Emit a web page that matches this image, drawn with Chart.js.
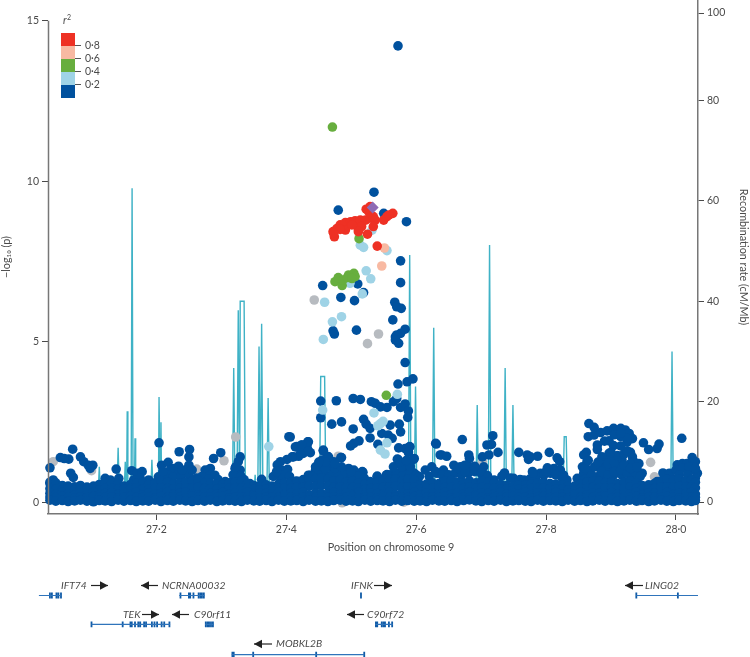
<!DOCTYPE html>
<html>
<head>
<meta charset="utf-8">
<title>Regional association plot, chromosome 9</title>
<script src="https://cdn.jsdelivr.net/npm/chart.js@4"></script>
<style>
  html, body { margin: 0; padding: 0; background: #fff; }
  canvas { display: block; }
</style>
</head>
<body>
<canvas id="chart" width="750" height="657"></canvas>
<script>
// Axis ticks
const positionTicks = [27.2, 27.4, 27.6, 27.8, 28.0];
const positionLabels = ['27·2', '27·4', '27·6', '27·8', '28·0'];
const logpTicks = [0, 5, 10, 15];
const rateTicks = [0, 20, 40, 60, 80, 97.4];
const rateLabels = ['0', '20', '40', '60', '80', '100'];
const legendLabels = ['0·8', '0·6', '0·4', '0·2'];

// Recombination rate (cM/Mb)
const recX = [27.036,27.110,27.112,27.114,27.139,27.141,27.143,27.150,27.152,27.154,27.155,27.156,27.161,27.1625,27.164,27.166,27.167,27.168,27.191,27.193,27.195,27.203,27.204,27.206,27.207,27.208,27.317,27.319,27.321,27.324,27.326,27.328,27.329,27.335,27.337,27.350,27.352,27.354,27.356,27.358,27.360,27.362,27.364,27.370,27.372,27.374,27.451,27.453,27.459,27.461,27.588,27.590,27.592,27.597,27.599,27.601,27.625,27.627,27.629,27.692,27.694,27.696,27.711,27.713,27.715,27.735,27.737,27.739,27.747,27.749,27.751,27.826,27.828,27.831,27.833,27.915,27.917,27.919,27.992,27.994,27.996,28.030];
const recRate = [1,1,7,1,1,10.8,1,1,8,1,18.1,1,1,62.5,1,1,12.7,1,1,8.4,1,1,20.9,1,15.9,1,1,26.7,1,1,38.2,1,40,40,1,1,5.4,1,1,31,1,35.5,1,1,20.7,1,1,25,25,1,1,49.2,1,1,23,1,1,34.7,1,1,19.3,1,1,51.2,1,1,26.7,1,1,19.3,1,1,13,13,1,1,11,1,1,30,1,1];

// Lead SNP
const leadX = [27.533];
const leadY = [9.18];

// r2 above 0.8
const redX = [27.474,27.472,27.478,27.483,27.491,27.499,27.506,27.514,27.522,27.529,27.534,27.527,27.529,27.523,27.537,27.550,27.555,27.564,27.558,27.534,27.525,27.491,27.511,27.516,27.511,27.483,27.501,27.473,27.540];
const redY = [8.27,8.43,8.53,8.64,8.71,8.74,8.77,8.79,8.79,8.85,8.90,9.05,9.21,9.13,8.79,8.79,8.90,9.00,8.95,8.59,8.35,8.48,8.50,8.59,8.43,8.50,8.64,8.38,7.98];

// r2 0.6 to 0.8
const salmonX = [27.551,27.547];
const salmonY = [7.92,7.36];

// r2 0.4 to 0.6
const greenX = [27.471,27.512,27.480,27.475,27.486,27.487,27.496,27.504,27.494,27.506,27.501,27.554];
const greenY = [11.69,8.21,7.00,6.87,6.75,6.92,7.08,7.13,7.00,7.03,6.97,3.33];

// r2 0.2 to 0.4
const lightX = [27.514,27.519,27.555,27.523,27.530,27.498,27.517,27.459,27.485,27.471,27.457,27.532,27.456,27.571,27.535,27.545,27.541,27.549,27.555,27.545,27.552,27.373];
const lightY = [8.01,7.94,7.84,7.21,6.96,6.82,6.49,6.23,5.78,5.62,5.07,8.48,2.87,3.36,2.78,2.45,2.38,2.52,1.85,1.62,1.50,1.73];

// No r2 available
const greyX = [27.443,27.542,27.525,27.480,27.041,27.100,27.262,27.322,27.304,27.486,27.581,27.702,27.961,27.967,27.942];
const greyY = [6.30,5.24,4.94,1.43,1.26,0.98,1.03,2.03,1.29,-0.02,0.00,1.26,1.24,0.79,0.03];

// r2 below 0.2, everything that stands out of the dense band
const navyX = [27.572,27.535,27.480,27.585,27.576,27.456,27.510,27.576,27.484,27.505,27.519,27.567,27.570,27.577,27.564,27.472,27.474,27.508,27.583,27.576,27.568,27.570,27.568,27.573,27.550,
  27.583,27.572,27.586,27.595,27.453,27.477,27.503,27.514,27.531,27.537,27.545,27.555,27.565,27.570,27.576,27.583,27.588,27.587,27.453,27.470,27.485,27.519,27.523,27.529,27.503,27.560,27.574,27.576,27.529,27.547,27.557,27.563,27.512,27.504,27.499,27.541,27.573,27.583,27.590,27.588,27.630,27.637,27.571,27.597,27.596,
  27.406,27.414,27.424,27.434,27.432,27.437,27.411,27.419,27.426,27.457,27.463,27.468,27.484,27.455,27.496,27.515,27.445,27.437,27.450,27.540,27.554,27.581,
  27.036,27.052,27.065,27.058,27.071,27.083,27.088,27.095,27.102,27.098,27.068,27.072,27.041,27.036,27.138,27.162,27.170,27.178,27.204,27.208,27.218,27.234,27.235,27.251,27.250,27.250,27.227,27.221,27.121,27.129,27.142,27.165,27.175,27.188,27.203,27.219,27.232,27.247,27.275,27.283,
  27.288,27.299,27.329,27.326,27.321,27.329,27.280,27.283,27.290,27.404,27.416,27.433,27.424,27.434,27.422,27.409,27.401,27.391,27.386,27.393,27.402,27.391,27.457,27.465,27.473,27.485,27.455,27.450,27.465,27.442,27.434,27.457,27.470,27.517,27.496,27.504,27.488,27.504,27.306,27.329,27.324,27.362,27.344,27.391,27.414,27.432,27.447,27.473,27.478,27.496,27.511,27.524,
  27.518,27.631,27.671,27.718,27.716,27.709,27.726,27.712,27.702,27.639,27.647,27.681,27.682,27.758,27.771,27.773,27.572,27.596,27.590,27.588,27.736,27.732,27.658,27.668,27.681,27.704,27.699,27.709,27.642,27.624,27.614,27.632,27.540,27.555,27.529,27.581,27.591,27.596,27.750,27.766,27.720,
  27.787,27.776,27.805,27.817,27.821,27.866,27.874,27.865,27.874,27.884,27.894,27.904,27.915,27.922,27.928,27.933,27.925,27.915,27.897,27.904,27.879,27.879,27.950,27.958,27.974,27.971,28.009,27.862,27.858,27.930,27.933,27.897,27.886,27.899,27.863,27.856,27.868,27.879,27.889,27.917,27.935,27.943,27.948,27.940,27.930,27.848,27.779,27.791,27.802,27.812,27.822,27.827,27.832,27.980,28.002,28.010,28.017,28.025,28.030,28.028,28.033,27.971,27.992,28.023,27.889,27.899,27.910,27.904,27.917,27.930,27.879,27.868,27.858,27.889,27.858,27.940];
const navyY = [14.22,9.66,9.10,8.74,7.52,6.75,6.80,6.84,6.38,6.28,6.53,6.23,6.09,6.04,5.68,5.34,5.24,5.36,5.39,5.26,5.15,5.21,5.05,4.95,9.00,
  4.35,3.68,3.75,3.84,3.15,3.16,3.23,3.20,3.13,3.08,2.97,2.95,3.13,3.23,2.95,3.06,2.84,2.64,2.63,2.43,2.50,2.58,2.43,2.30,2.28,2.40,2.43,2.19,2.00,2.14,2.09,1.99,1.91,1.83,1.75,1.80,1.69,1.67,1.72,1.57,1.83,1.47,1.34,1.36,0.91,
  2.03,1.72,1.78,1.88,1.71,1.54,1.41,1.43,1.52,1.60,1.43,1.26,1.39,1.21,1.00,0.91,1.00,0.84,1.05,0.79,0.84,1.00,
  1.07,1.39,1.34,1.36,1.65,1.41,1.26,1.15,1.15,1.05,0.90,0.77,0.69,0.58,1.03,0.98,0.90,0.95,1.85,1.15,1.24,1.12,1.57,1.64,1.41,1.15,1.05,1.00,0.74,0.69,0.74,0.69,0.74,0.69,0.79,0.84,0.84,1.00,1.00,1.05,
  1.36,1.54,1.41,1.26,1.05,1.00,1.00,0.84,0.84,2.04,1.73,1.88,1.78,1.60,1.52,1.41,1.33,1.26,1.16,1.00,1.02,0.84,1.62,1.41,1.26,1.39,1.31,1.10,1.10,0.84,0.84,0.79,0.74,0.95,1.05,1.00,0.84,0.79,0.64,0.84,0.74,0.71,0.58,0.64,0.64,0.69,0.79,0.84,0.64,0.69,0.69,0.58,
  0.93,1.81,1.95,2.07,1.80,1.78,1.55,1.47,1.41,1.47,1.43,1.47,1.36,1.55,1.47,1.33,1.33,1.33,1.73,1.55,0.91,0.81,1.15,1.10,1.10,1.10,1.00,0.84,1.00,1.10,1.00,0.90,0.81,0.86,0.64,1.00,1.10,0.90,0.74,0.69,0.69,
  1.43,1.41,1.55,1.38,1.26,2.45,2.33,2.04,2.09,2.17,2.22,2.30,2.30,2.25,2.14,1.98,1.88,2.04,1.91,1.76,1.78,1.64,1.85,1.64,1.81,1.67,1.99,1.55,1.47,1.55,1.41,1.52,1.41,1.36,1.26,1.10,1.00,1.15,1.20,1.31,1.26,1.20,0.90,1.00,1.20,0.74,0.95,0.90,1.07,1.05,1.00,0.84,0.69,0.91,1.16,1.20,1.20,1.39,1.26,1.10,0.90,0.64,0.79,1.00,1.00,1.00,1.10,0.84,0.84,0.84,0.79,0.79,0.90,0.79,0.69,0.74];

// Filling the humps that rise out of the band
const fillX = [27.213,27.225,27.238,27.250,27.262,27.240,27.210,27.255,27.270,27.280,27.295,
  27.318,27.330,27.322,27.335,27.380,27.395,27.405,27.385,
  27.440,27.450,27.460,27.470,27.480,27.490,27.500,27.510,27.520,27.445,27.460,27.475,27.485,27.500,27.460,27.475,27.450,
  27.560,27.570,27.580,27.590,27.600,27.565,27.578,27.590,27.575,27.585,27.605,
  27.620,27.630,27.640,27.650,27.660,27.670,27.680,27.690,27.700,27.710,27.665,27.675,27.690,27.675,
  27.745,27.760,27.775,27.785,27.797,27.807,27.815,27.825,27.780,27.800,
  27.860,27.870,27.875,27.885,27.895,27.905,27.915,27.925,27.935,27.945,27.865,27.880,27.895,27.905,27.920,27.930,27.940,27.910,27.920,27.925,27.900,27.915,27.925,27.890,27.905,27.915,27.860,
  27.990,28.000,28.010,28.020,28.030,27.985,28.005,28.018,28.030];
const fillY = [0.75,0.78,0.80,0.85,0.75,1.00,0.95,1.00,0.80,0.72,0.70,
  0.85,0.80,1.10,0.70,0.80,0.85,0.80,0.95,
  0.80,0.85,0.85,0.85,0.85,0.85,0.85,0.80,0.75,1.10,1.05,1.05,1.10,0.95,1.25,1.20,1.25,
  0.85,0.90,0.85,0.85,0.85,1.10,1.10,1.15,1.25,1.30,0.80,
  0.80,0.95,0.85,0.85,0.90,0.85,0.90,0.95,0.90,0.80,1.05,0.95,1.12,1.15,
  0.75,0.70,0.72,0.80,0.85,0.90,0.85,0.75,0.90,0.95,
  1.05,0.85,1.10,0.95,0.85,0.95,1.00,0.90,0.95,0.80,1.30,1.25,1.20,1.25,1.15,1.05,1.10,1.45,1.50,1.60,1.55,1.75,2.00,1.90,2.10,2.15,0.70,
  0.90,1.00,1.05,1.10,1.05,0.72,0.85,0.85,0.75];

// Dense band along the bottom, five rows per position
const bandX = [27.036,27.045,27.055,27.064,27.074,27.083,27.093,27.103,27.112,27.121,
  27.131,27.141,27.150,27.160,27.169,27.179,27.188,27.198,27.207,27.217,
  27.226,27.236,27.245,27.255,27.264,27.274,27.283,27.293,27.302,27.312,
  27.321,27.331,27.340,27.350,27.359,27.369,27.378,27.388,27.397,27.407,
  27.416,27.426,27.435,27.445,27.454,27.464,27.473,27.483,27.492,27.502,
  27.511,27.521,27.530,27.540,27.549,27.559,27.568,27.578,27.587,27.597,
  27.606,27.616,27.625,27.635,27.644,27.654,27.663,27.673,27.682,27.692,
  27.701,27.711,27.720,27.730,27.739,27.749,27.758,27.768,27.777,27.787,
  27.796,27.806,27.815,27.825,27.834,27.844,27.853,27.863,27.872,27.882,
  27.891,27.901,27.910,27.920,27.929,27.939,27.948,27.958,27.967,27.977,
  27.986,27.996,28.005,28.015,28.024,28.030];
const bandLow = [0.06,0.03,0.05,0.02,0.04,0.06,0.03,0.01,0.05,0.04,
  0.02,0.06,0.03,0.05,0.02,0.04,0.03,0.06,0.02,0.05,
  0.03,0.06,0.04,0.02,0.05,0.03,0.06,0.02,0.04,0.05,
  0.03,0.02,0.06,0.04,0.03,0.05,0.02,0.06,0.03,0.04,
  0.05,0.02,0.06,0.03,0.04,0.02,0.05,0.06,0.03,0.04,
  0.02,0.06,0.03,0.05,0.04,0.02,0.06,0.03,0.05,0.03,
  0.04,0.02,0.06,0.04,0.03,0.05,0.02,0.05,0.07,0.04,
  0.02,0.05,0.03,0.06,0.02,0.04,0.05,0.03,0.02,0.06,
  0.03,0.05,0.04,0.02,0.06,0.03,0.05,0.02,0.04,0.06,
  0.03,0.05,0.02,0.04,0.06,0.03,0.05,0.02,0.04,0.06,
  0.03,0.02,0.05,0.04,0.02,0.05];
const bandLowMid = [0.16,0.14,0.17,0.15,0.13,0.16,0.14,0.17,0.15,0.14,
  0.16,0.13,0.15,0.17,0.14,0.16,0.15,0.13,0.17,0.14,
  0.16,0.15,0.13,0.17,0.14,0.16,0.15,0.14,0.17,0.13,
  0.15,0.16,0.14,0.17,0.13,0.16,0.15,0.14,0.17,0.15,
  0.13,0.16,0.14,0.15,0.17,0.14,0.16,0.13,0.15,0.17,
  0.14,0.16,0.15,0.13,0.17,0.14,0.16,0.15,0.14,0.17,
  0.13,0.15,0.16,0.14,0.17,0.13,0.16,0.15,0.14,0.17,
  0.15,0.13,0.16,0.14,0.15,0.17,0.14,0.16,0.13,0.15,
  0.17,0.14,0.16,0.15,0.13,0.17,0.14,0.16,0.15,0.14,
  0.17,0.13,0.15,0.16,0.14,0.17,0.13,0.16,0.15,0.14,
  0.17,0.15,0.13,0.16,0.14,0.15];
const bandMid = [0.28,0.24,0.30,0.26,0.22,0.29,0.25,0.31,0.23,0.27,
  0.30,0.24,0.28,0.26,0.31,0.23,0.29,0.25,0.27,0.30,
  0.24,0.28,0.31,0.26,0.23,0.29,0.27,0.25,0.30,0.24,
  0.28,0.26,0.31,0.23,0.29,0.27,0.25,0.30,0.24,0.28,
  0.26,0.31,0.23,0.29,0.27,0.25,0.30,0.24,0.28,0.26,
  0.31,0.23,0.29,0.27,0.25,0.30,0.24,0.28,0.26,0.31,
  0.23,0.29,0.27,0.25,0.30,0.24,0.28,0.26,0.31,0.23,
  0.29,0.27,0.25,0.30,0.24,0.28,0.26,0.31,0.23,0.29,
  0.27,0.25,0.30,0.24,0.28,0.26,0.31,0.23,0.29,0.27,
  0.25,0.30,0.24,0.28,0.26,0.31,0.23,0.29,0.27,0.25,
  0.30,0.24,0.28,0.26,0.31,0.25];
const bandHighMid = [0.42,0.40,0.38,0.41,0.37,0.40,0.39,0.41,0.38,0.42,
  0.43,0.41,0.40,0.42,0.44,0.41,0.40,0.43,0.45,0.42,
  0.41,0.43,0.44,0.45,0.46,0.42,0.41,0.40,0.42,0.43,
  0.44,0.45,0.42,0.39,0.38,0.41,0.39,0.42,0.43,0.44,
  0.46,0.48,0.50,0.51,0.52,0.50,0.46,0.48,0.44,0.46,
  0.43,0.41,0.42,0.44,0.46,0.48,0.50,0.46,0.48,0.47,
  0.41,0.42,0.43,0.42,0.46,0.47,0.44,0.43,0.46,0.43,
  0.46,0.44,0.43,0.41,0.40,0.38,0.41,0.40,0.42,0.43,
  0.44,0.42,0.41,0.41,0.38,0.38,0.42,0.44,0.46,0.45,
  0.43,0.44,0.42,0.44,0.46,0.43,0.40,0.41,0.42,0.46,
  0.48,0.47,0.50,0.46,0.48,0.44];
const bandTop = [0.62,0.60,0.52,0.50,0.48,0.52,0.47,0.50,0.55,0.60,
  0.58,0.56,0.50,0.55,0.58,0.62,0.55,0.60,0.66,0.62,
  0.56,0.60,0.62,0.66,0.68,0.60,0.58,0.56,0.55,0.60,
  0.62,0.66,0.58,0.52,0.50,0.54,0.50,0.56,0.58,0.62,
  0.66,0.70,0.72,0.74,0.76,0.72,0.66,0.70,0.62,0.66,
  0.60,0.55,0.58,0.62,0.66,0.70,0.72,0.66,0.70,0.68,
  0.55,0.56,0.60,0.58,0.66,0.68,0.62,0.60,0.66,0.60,
  0.66,0.62,0.60,0.55,0.52,0.50,0.54,0.52,0.56,0.60,
  0.62,0.58,0.56,0.54,0.50,0.50,0.56,0.62,0.66,0.64,
  0.60,0.62,0.58,0.62,0.66,0.60,0.52,0.54,0.58,0.66,
  0.70,0.68,0.72,0.66,0.70,0.62];

// Gene models, row is a level below the axis on the -log10(p) scale
const geneNames = ['IFT74','NCRNA00032','TEK','C90rf11','MOBKL2B','IFNK','C90rf72','LING02'];
const geneStart = [27.019,27.235,27.100,27.275,27.316,27.515,27.537,27.939];
const geneEnd = [27.054,27.274,27.221,27.288,27.520,27.515,27.564,28.034];
const geneRow = [-2.91,-2.91,-3.81,-3.81,-4.75,-2.91,-3.81,-2.91];
const exonX = [
  [27.036,27.039,27.046,27.049,27.053],
  [27.237,27.250,27.252,27.257,27.265,27.268,27.270,27.273],
  [27.100,27.148,27.160,27.162,27.167,27.172,27.175,27.181,27.184,27.193,27.197,27.201,27.208,27.212,27.220],
  [27.276,27.279,27.281,27.284,27.287],
  [27.317,27.319,27.349,27.446,27.520],
  [27.515],
  [27.538,27.540,27.547,27.550,27.552,27.558,27.563],
  [27.939,28.003],
];

// Styles and page layout
const ink = '#4a4a4a';
const axisGrey = '#777777';
const fontFamily = 'Lato, "Open Sans", sans-serif';
const legendColors = ['#ee3124', '#f8b9a2', '#67ae3e', '#9fd3e6', '#00519e'];
const geneLabelLayout = [
  { text: 61, arrow: [91, 108], right: true },
  { text: 162, arrow: [141, 158], right: false },
  { text: 123, arrow: [142, 159], right: true },
  { text: 194, arrow: [172, 189], right: false },
  { text: 276, arrow: [254, 272], right: false },
  { text: 351, arrow: [374, 392], right: true },
  { text: 367, arrow: [347, 364], right: false },
  { text: 645, arrow: [625, 643], right: false },
];

const toPoints = (xs, ys) => xs.map((x, i) => ({ x, y: ys[i] }));

const geneLines = [];
geneNames.forEach((name, i) => {
  geneLines.push({ x: geneStart[i], y: geneRow[i] }, { x: geneEnd[i], y: geneRow[i] }, { x: null, y: null });
});
const exonHalf = 0.09;
const exonLines = [];
exonX.forEach((xs, i) => xs.forEach(x => {
  exonLines.push({ x, y: geneRow[i] - exonHalf }, { x, y: geneRow[i] + exonHalf }, { x: null, y: null });
}));

const dots = (data, color, order) => ({
  data, order,
  clip: false,
  showLine: false,
  pointRadius: 4.8,
  pointBorderWidth: 0,
  pointBackgroundColor: color,
});

// Everything the axes do not draw: left spine, r2 legend, titles, gene labels
const annotations = {
  id: 'annotations',
  // The vertical axes run to the very top of the page, tick label padding would push them down
  afterLayout(chart) {
    const { x, y, y2 } = chart.scales;
    [y, y2].forEach(s => {
      s.top = 0;
      s.bottom = x.top;
      s.height = x.top;
      s.configure();
    });
    chart.chartArea.top = 0;
    chart.chartArea.bottom = x.top;
    chart.chartArea.height = x.top;
  },
  afterDraw(chart) {
    const { ctx, scales } = chart;
    ctx.save();
    ctx.strokeStyle = axisGrey;
    ctx.lineWidth = 1.5;
    ctx.beginPath();
    ctx.moveTo(scales.x.left + 0.5, scales.y.getPixelForValue(15));
    ctx.lineTo(scales.x.left + 0.5, scales.x.top);
    ctx.stroke();

    // r2 legend
    legendColors.forEach((c, i) => {
      ctx.fillStyle = c;
      ctx.fillRect(61, 33 + i * 13, 14, 13);
    });
    ctx.strokeStyle = '#555';
    ctx.lineWidth = 1;
    ctx.fillStyle = ink;
    ctx.font = '10.5px ' + fontFamily;
    ctx.textBaseline = 'middle';
    ctx.textAlign = 'left';
    legendLabels.forEach((label, i) => {
      const ly = 45.5 + i * 13;
      ctx.beginPath();
      ctx.moveTo(75, ly);
      ctx.lineTo(81, ly);
      ctx.stroke();
      ctx.fillText(label, 85, ly + 0.5);
    });
    ctx.font = 'italic 10.5px ' + fontFamily;
    ctx.fillText('r', 63, 21);
    ctx.font = '7px ' + fontFamily;
    ctx.fillText('2', 67, 18);

    // x axis title
    ctx.font = '10.8px ' + fontFamily;
    ctx.textAlign = 'center';
    ctx.fillText('Position on chromosome 9', 391, 548);

    // gene labels and direction arrows
    ctx.textAlign = 'left';
    ctx.font = 'italic 10.3px ' + fontFamily;
    const rowLabelY = { '-2.91': 585.5, '-3.81': 614.5, '-4.75': 644 };
    geneNames.forEach((name, i) => {
      const layout = geneLabelLayout[i];
      const ty = rowLabelY[geneRow[i]];
      ctx.fillStyle = ink;
      ctx.fillText(name, layout.text, ty);
      const [a, b] = layout.arrow;
      ctx.strokeStyle = '#222';
      ctx.fillStyle = '#222';
      ctx.lineWidth = 1.2;
      ctx.beginPath();
      ctx.moveTo(a, ty);
      ctx.lineTo(b, ty);
      ctx.stroke();
      const tip = layout.right ? b : a;
      const back = layout.right ? b - 8 : a + 8;
      ctx.beginPath();
      ctx.moveTo(tip, ty);
      ctx.lineTo(back, ty - 4.2);
      ctx.lineTo(back, ty + 4.2);
      ctx.closePath();
      ctx.fill();
    });
    ctx.restore();
  },
};

const tickFont = { family: fontFamily, size: 10.5 };

new Chart(document.getElementById('chart'), {
  type: 'scatter',
  data: {
    datasets: [
      { data: toPoints(recX, recRate), yAxisID: 'y2', order: 9, clip: false, showLine: true, borderColor: '#3fb2c6', borderWidth: 1.4, pointRadius: 0, tension: 0 },
      dots(toPoints(greyX, greyY), '#b7bbc0', 8),
      dots(toPoints(bandX, bandLow), '#00519e', 7),
      dots(toPoints(bandX, bandLowMid), '#00519e', 7),
      dots(toPoints(bandX, bandMid), '#00519e', 7),
      dots(toPoints(bandX, bandHighMid), '#00519e', 7),
      dots(toPoints(bandX, bandTop), '#00519e', 7),
      dots(toPoints(fillX, fillY), '#00519e', 7),
      dots(toPoints(navyX, navyY), '#00519e', 7),
      dots(toPoints(lightX, lightY), '#9fd3e6', 6),
      dots(toPoints(greenX, greenY), '#67ae3e', 5),
      dots(toPoints(salmonX, salmonY), '#f8b9a2', 4),
      dots(toPoints(redX, redY), '#ee3124', 3),
      { ...dots(toPoints(leadX, leadY), '#8e6bb5', 2), pointStyle: 'rectRot', pointRadius: 6 },
      { data: geneLines, order: 1, clip: false, showLine: true, spanGaps: false, borderColor: '#2f74bb', borderWidth: 1.2, pointRadius: 0 },
      { data: exonLines, order: 1, clip: false, showLine: true, spanGaps: false, borderColor: '#0f5aa6', borderWidth: 1.8, pointRadius: 0 },
    ],
  },
  options: {
    responsive: false,
    animation: false,
    events: [],
    layout: { padding: 0 },
    plugins: { legend: { display: false }, tooltip: { enabled: false } },
    scales: {
      x: {
        type: 'linear',
        min: 27.033,
        max: 28.034,
        border: { color: axisGrey, width: 1.5 },
        grid: { drawOnChartArea: false, tickLength: 6, tickColor: ink },
        ticks: {
          autoSkip: false, maxRotation: 0, color: ink, font: tickFont, padding: 3,
          callback: (v, i) => positionLabels[i],
        },
        afterBuildTicks: s => { s.ticks = positionTicks.map(value => ({ value })); },
        afterFit: s => { s.height = 143; },
      },
      y: {
        type: 'linear',
        min: -0.37,
        max: 15.65,
        border: { display: false },
        grid: { drawOnChartArea: false, tickLength: 6, tickColor: ink },
        ticks: { autoSkip: false, color: ink, font: tickFont, padding: 3, callback: v => String(v) },
        title: { display: true, text: '−log₁₀ (p)', color: ink, font: { family: fontFamily, size: 10.8 }, padding: { top: 0, bottom: 0 } },
        afterBuildTicks: s => { s.ticks = logpTicks.map(value => ({ value })); },
        afterFit: s => { s.width = 48; },
      },
      y2: {
        type: 'linear',
        position: 'right',
        min: -2.39,
        max: 100,
        border: { color: axisGrey, width: 1.5 },
        grid: { drawOnChartArea: false, tickLength: 6, tickColor: ink },
        ticks: {
          autoSkip: false, color: ink, font: tickFont, padding: 3,
          callback: (v, i) => rateLabels[i],
        },
        title: { display: true, text: 'Recombination rate (cM/Mb)', color: ink, font: { family: fontFamily, size: 10.8 }, padding: { top: 0, bottom: 0 } },
        afterBuildTicks: s => { s.ticks = rateTicks.map(value => ({ value })); },
        afterFit: s => { s.width = 52; },
      },
    },
  },
  plugins: [annotations],
});
</script>
</body>
</html>
